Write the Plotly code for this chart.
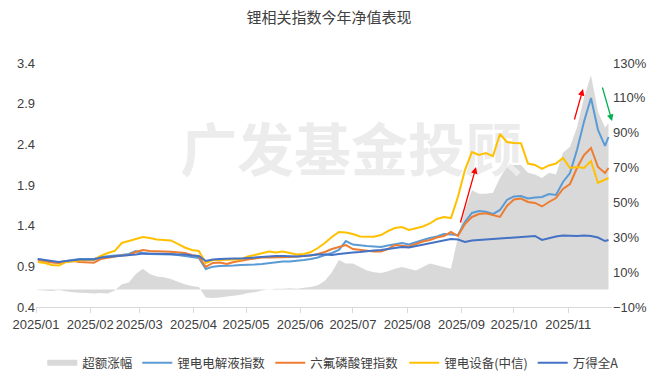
import pandas as pd
import plotly.graph_objects as go

# trading-date samples (every 4 days) from 2025-01-02 to 2025-11-24
dates = list(pd.date_range("2025-01-02", periods=82, freq="4D").strftime("%Y-%m-%d")) + ["2025-11-24"]

# 超额涨幅 (%), right axis
excess = [
    -0.3, -0.5, -0.8, -0.3, -1.0, -1.5, -1.8, -2.0, -2.3, -2.0,
    -2.2, -0.5, 3.0, 4.0, 9.0, 12.0, 9.0, 7.5, 7.0, 6.0,
    4.5, 3.0, 2.0, 1.5, -4.5, -4.8, -4.5, -4.0, -3.5, -3.0,
    -2.0, -1.5, -0.5, 0.0, 0.5, 0.5, 0.8, 0.5, 1.0, 1.5,
    2.5, 5.0, 10.0, 17.0, 15.0, 15.0, 13.0, 11.0, 10.0, 9.5,
    10.5, 12.0, 13.0, 12.0, 11.0, 13.0, 15.0, 14.0, 13.0, 12.0,
    30.0, 46.0, 57.0, 55.0, 55.0, 55.5, 64.0, 70.5, 71.5, 71.5,
    67.0, 66.0, 64.0, 67.0, 66.0, 78.5, 82.0, 93.0, 110.0, 123.0,
    102.0, 93.0, 95.5,
]

# 锂电电解液指数
electrolyte = [
    0.990, 0.972, 0.953, 0.947, 0.966, 0.978, 0.990, 0.990, 0.990, 1.015,
    1.027, 1.033, 1.039, 1.052, 1.089, 1.064, 1.052, 1.052, 1.052, 1.045,
    1.039, 1.027, 1.015, 1.002, 0.867, 0.896, 0.904, 0.904, 0.910, 0.916,
    0.916, 0.923, 0.929, 0.941, 0.953, 0.959, 0.959, 0.966, 0.978, 0.990,
    1.009, 1.039, 1.064, 1.101, 1.211, 1.168, 1.156, 1.150, 1.144, 1.138,
    1.156, 1.175, 1.187, 1.168, 1.199, 1.224, 1.248, 1.267, 1.298, 1.291,
    1.285, 1.445, 1.556, 1.580, 1.572, 1.543, 1.593, 1.716, 1.759, 1.765,
    1.734, 1.746, 1.752, 1.789, 1.777, 1.937, 2.047, 2.330, 2.678, 2.970,
    2.576, 2.380, 2.490,
]

# 六氟磷酸锂指数
lipf6 = [
    0.978, 0.959, 0.947, 0.941, 0.953, 0.966, 0.953, 0.947, 0.945, 0.990,
    1.009, 1.021, 1.033, 1.039, 1.076, 1.101, 1.089, 1.082, 1.082, 1.080,
    1.076, 1.064, 1.039, 1.021, 0.892, 0.941, 0.947, 0.929, 0.953, 0.972,
    0.984, 0.996, 1.009, 1.009, 1.009, 1.015, 1.015, 1.021, 1.027, 1.033,
    1.052, 1.076, 1.113, 1.138, 1.162, 1.113, 1.101, 1.089, 1.082, 1.082,
    1.113, 1.162, 1.150, 1.144, 1.175, 1.205, 1.224, 1.254, 1.273, 1.322,
    1.273, 1.420, 1.507, 1.543, 1.552, 1.525, 1.507, 1.642, 1.722, 1.734,
    1.691, 1.679, 1.636, 1.691, 1.740, 1.851, 1.912, 2.109, 2.269, 2.355,
    2.121, 2.047, 2.109,
]

# 锂电设备(中信)
equipment = [
    0.953, 0.941, 0.916, 0.910, 0.953, 0.966, 0.972, 0.978, 0.978, 1.027,
    1.064, 1.089, 1.187, 1.211, 1.236, 1.261, 1.248, 1.230, 1.224, 1.218,
    1.175, 1.132, 1.101, 1.089, 0.941, 0.978, 0.978, 0.984, 0.984, 0.984,
    1.021, 1.039, 1.064, 1.082, 1.070, 1.082, 1.064, 1.045, 1.052, 1.076,
    1.125, 1.187, 1.261, 1.322, 1.316, 1.298, 1.267, 1.267, 1.264, 1.285,
    1.334, 1.371, 1.384, 1.347, 1.371, 1.390, 1.427, 1.482, 1.507, 1.494,
    1.752, 2.084, 2.306, 2.269, 2.293, 2.256, 2.527, 2.429, 2.416, 2.413,
    2.164, 2.146, 2.097, 2.140, 2.164, 2.232, 2.109, 2.121, 2.109, 2.195,
    1.925, 1.962, 1.986,
]

# 万得全A
wind_a = [
    0.990, 0.978, 0.959, 0.953, 0.966, 0.978, 0.984, 0.984, 0.984, 1.009,
    1.015, 1.021, 1.027, 1.033, 1.045, 1.058, 1.058, 1.052, 1.052, 1.052,
    1.045, 1.045, 1.033, 1.027, 0.966, 0.984, 0.990, 0.996, 0.996, 0.996,
    1.002, 1.015, 1.021, 1.027, 1.027, 1.027, 1.021, 1.021, 1.027, 1.039,
    1.045, 1.045, 1.039, 1.052, 1.064, 1.070, 1.076, 1.089, 1.095, 1.101,
    1.113, 1.132, 1.138, 1.132, 1.150, 1.162, 1.187, 1.199, 1.224, 1.236,
    1.230, 1.199, 1.218, 1.224, 1.230, 1.236, 1.242, 1.248, 1.254, 1.254,
    1.267, 1.273, 1.224, 1.248, 1.267, 1.279, 1.273, 1.273, 1.279, 1.273,
    1.254, 1.211, 1.224,
]

left_ticks = [0.4, 0.9, 1.4, 1.9, 2.4, 2.9, 3.4]
right_ticks = [-10, 10, 30, 50, 70, 90, 110, 130]

FONT = "Liberation Sans, Arial, Noto Sans CJK SC, sans-serif"
CJK = "Noto Sans CJK SC, sans-serif"
TXT = "#404040"

fig = go.Figure()
fig.add_trace(go.Scatter(x=dates, y=excess, name="超额涨幅", mode="none",
                         fill="tozeroy", fillcolor="#d9d9d9", yaxis="y", legend="legend"))
# watermark (between area and lines)
fig.add_trace(go.Scatter(x=["2025-06-30"], y=[76], mode="text", text=["广发基金投顾"],
                         textfont=dict(size=57, color="#ececec", family="Noto Sans CJK SC", weight="bold"),
                         showlegend=False, hoverinfo="skip", yaxis="y"))

series = [
    ("锂电电解液指数", electrolyte, "#5b9bd5", "legend"),
    ("六氟磷酸锂指数", lipf6, "#ed7d31", "legend"),
    ("锂电设备(中信)", equipment, "#ffc000", "legend2"),
    ("万得全A", wind_a, "#4472c4", "legend2"),
]
for name, vals, col, lg in series:
    fig.add_trace(go.Scatter(x=dates, y=vals, name=name, mode="lines",
                             line=dict(color=col, width=2), yaxis="y2", legend=lg))

arrows = [
    dict(x=(476 - 36) / 576, y=(307 - 167) / 244, ax=-16, ay=57, arrowcolor="#ff0000"),
    dict(x=(583 - 36) / 576, y=(307 - 89) / 244, ax=-9, ay=32, arrowcolor="#ff0000"),
    dict(x=1.0, y=(307 - 121) / 244, ax=-10, ay=-35, arrowcolor="#00b050"),
]
annotations = []
for a in arrows:
    annotations.append(dict(xref="paper", yref="paper", text="", showarrow=True,
                            arrowhead=2, arrowsize=1, arrowwidth=1.3, **a))

legend_common = dict(orientation="h", yref="container", y=1 - 363 / 388, yanchor="middle",
                     xref="container", font=dict(size=12.5, color=TXT, family=CJK),
                     itemwidth=30, tracegroupgap=0, bgcolor="rgba(0,0,0,0)")
split = 0.607

fig.update_layout(
    width=666, height=388,
    margin=dict(l=36, r=54, t=63, b=81),
    paper_bgcolor="white", plot_bgcolor="white",
    font=dict(family=FONT, size=13, color=TXT),
    hovermode=False,
    title=dict(text="锂相关指数今年净值表现", x=0.494, xref="container", xanchor="center",
               y=1 - 18 / 388, yref="container", yanchor="middle",
               font=dict(size=15, color=TXT, family=CJK)),
    xaxis=dict(type="date", range=["2025-01-01", "2025-11-26"], dtick="M1", tick0="2025-01-01",
               tickformat="%Y/%m", ticks="outside", ticklen=5, tickcolor="#d9d9d9",
               showline=True, linecolor="#d9d9d9", linewidth=1, showgrid=False,
               tickfont=dict(size=13, color=TXT)),
    yaxis=dict(side="right", range=[-10, 130], tickvals=right_ticks,
               ticktext=[("−" if v < 0 else "") + f"{abs(v)}%" for v in right_ticks],
               showgrid=False, zeroline=False, showline=False, ticks="",
               tickfont=dict(size=13, color=TXT)),
    yaxis2=dict(side="left", overlaying="y", range=[0.4, 3.4], tickvals=left_ticks,
                tickformat=".1f", showgrid=False, zeroline=False, showline=False, ticks="",
                tickfont=dict(size=13, color=TXT)),
    legend=dict(x=split, xanchor="right", **legend_common),
    legend2=dict(x=split, xanchor="left", **legend_common),
    annotations=annotations,
    showlegend=True,
)

fig.write_html("out.html", config={"displayModeBar": False, "staticPlot": True},
               post_script="document.body.style.margin='0';")
